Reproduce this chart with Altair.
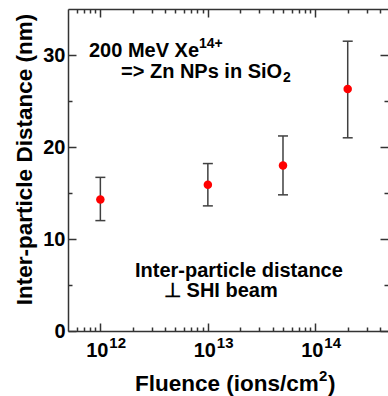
import altair as alt
import pandas as pd

# ---- data ----
fluence = [1e12, 1e13, 5e13, 2e14]
distance = [14.3, 15.9, 18.0, 26.3]
err_low = [12.0, 13.6, 14.8, 21.0]
err_high = [16.7, 18.2, 21.2, 31.5]

x_major = [1e12, 1e13, 1e14]
x_major_base = ["10", "10", "10"]
x_major_exp = ["12", "13", "14"]
x_minor = [6e11, 7e11, 8e11, 9e11,
           2e12, 3e12, 4e12, 5e12, 6e12, 7e12, 8e12, 9e12,
           2e13, 3e13, 4e13, 5e13, 6e13, 7e13, 8e13, 9e13,
           2e14, 3e14, 4e14]
y_major = [0, 10, 20, 30]
y_minor = [5, 15, 25]

df = pd.DataFrame({"fluence": fluence, "distance": distance,
                   "lo": err_low, "hi": err_high})
ticks_df = pd.DataFrame({"v": x_major, "base": x_major_base,
                         "exp": x_major_exp})

FONT = "Liberation Sans"
AX = "#333333"

xscale = alt.Scale(type="log", domain=[5e11, 4.74e14], nice=False)
yscale = alt.Scale(domain=[0, 35], nice=False, zero=False)

common = dict(grid=False, domain=False, tickColor=AX, tickWidth=1.5,
              labelFont=FONT, labelFontWeight="bold",
              labelColor="black", titleFont=FONT, titleFontSize=22.5,
              titleFontWeight="bold", titleColor="black")

def major_x(orient):
    return alt.Axis(orient=orient, values=x_major, tickSize=8, offset=-8,
                    labels=False, title=None, **common)

def minor_x(orient):
    return alt.Axis(orient=orient, values=x_minor, tickSize=4, offset=-4,
                    labels=False, title=None, **common)

def major_y(orient, labels, title=None, **kw):
    return alt.Axis(orient=orient, values=y_major, tickSize=8, offset=-8,
                    labels=labels, labelPadding=3, labelOverlap=False,
                    labelFontSize=20, title=title, **common, **kw)

def minor_y(orient):
    return alt.Axis(orient=orient, values=y_minor, tickSize=4, offset=-4,
                    labels=False, title=None, **common)

def frame_axis(orient):
    return alt.Axis(orient=orient, domain=True, domainColor=AX,
                    domainWidth=1.5, ticks=False, labels=False, grid=False,
                    title=None, offset=0)

base = alt.Chart(df)

bars = base.mark_rule(color="#404040", strokeWidth=1.5).encode(
    x=alt.X("fluence:Q", scale=xscale, axis=major_x("bottom")),
    y=alt.Y("lo:Q", scale=yscale,
            axis=major_y("left", True, "Inter-particle Distance (nm)",
                         titleX=-45, titleY=150, titleBaseline="alphabetic",
                         titleAlign="center", titleAngle=270)),
    y2="hi:Q",
)

cap_lo = base.mark_tick(orient="horizontal", size=10, thickness=1.5,
                        color="#404040", opacity=1).encode(
    x=alt.X("fluence:Q", scale=xscale, axis=minor_x("bottom")),
    y=alt.Y("lo:Q", scale=yscale, axis=minor_y("left")),
)

cap_hi = base.mark_tick(orient="horizontal", size=10, thickness=1.5,
                        color="#404040", opacity=1).encode(
    x=alt.X("fluence:Q", scale=xscale, axis=major_x("top")),
    y=alt.Y("hi:Q", scale=yscale, axis=major_y("right", False)),
)

points = base.mark_circle(size=72, color="#ff0000", opacity=1).encode(
    x=alt.X("fluence:Q", scale=xscale, axis=minor_x("top")),
    y=alt.Y("distance:Q", scale=yscale, axis=minor_y("right")),
)

frame_a = base.mark_circle(opacity=0).encode(
    x=alt.X("fluence:Q", scale=xscale, axis=frame_axis("bottom")),
    y=alt.Y("distance:Q", scale=yscale, axis=frame_axis("left")),
)
frame_b = base.mark_circle(opacity=0).encode(
    x=alt.X("fluence:Q", scale=xscale, axis=frame_axis("top")),
    y=alt.Y("distance:Q", scale=yscale, axis=None),
)

# tick labels of the bottom axis: "10" with a superscript exponent
tick_base = alt.Chart(ticks_df).mark_text(
    font=FONT, fontSize=20, fontWeight="bold", color="black",
    align="center", baseline="alphabetic", dx=-3).encode(
    x=alt.X("v:Q", scale=xscale, axis=None), y=alt.value(348), text="base:N")
tick_exp = alt.Chart(ticks_df).mark_text(
    font=FONT, fontSize=15, fontWeight="bold", color="black",
    align="left", baseline="alphabetic", dx=9).encode(
    x=alt.X("v:Q", scale=xscale, axis=None), y=alt.value(339), text="exp:N")

def note(txt, px, py, size=20):
    return alt.Chart(pd.DataFrame({"t": [txt]})).mark_text(
        font=FONT, fontSize=size, fontWeight="bold", color="black",
        align="left", baseline="alphabetic").encode(
        text="t:N", x=alt.value(px), y=alt.value(py))

notes = [
    note("200 MeV Xe", 21, 48),
    note("14+", 131, 39, 14),
    note("=> Zn NPs in SiO", 53, 69),
    note("2", 215, 73, 14),
    note("Inter-particle distance", 67, 268),
    note("\u22a5 SHI beam", 96, 288),
    # x axis title with a real superscript
    note("Fluence (ions/cm", 67, 382, 22.5),
    note("2", 251, 372, 15),
    note(")", 260, 382, 22.5),
]

chart = alt.layer(bars, cap_lo, cap_hi, points, frame_a, frame_b,
                  tick_base, tick_exp, *notes).resolve_axis(
    x="independent", y="independent"
).properties(
    width=320, height=322,
    autosize=alt.AutoSizeParams(type="none"),
    padding={"left": 68, "top": 9, "right": 0, "bottom": 65},
).configure_view(stroke=None).configure(background="white")

chart.save("out.html", embed_options={"renderer": "svg", "actions": False})
